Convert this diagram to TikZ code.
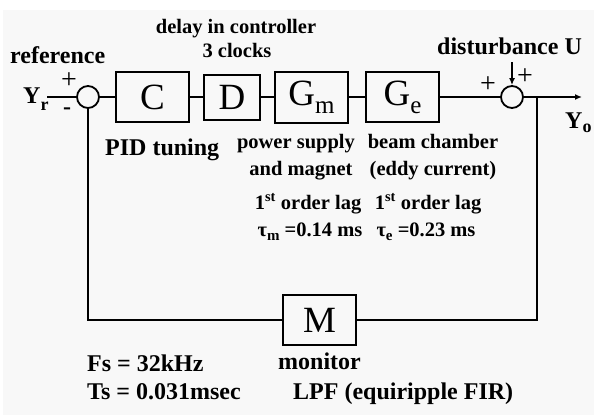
\documentclass[tikz,border=0pt]{standalone}
\usepackage{fontspec}
\usepackage{graphicx}
\setmainfont{Liberation Serif}
\usetikzlibrary{arrows.meta}
\definecolor{bg}{RGB}{248,248,248}
\newcommand\dsub[3]{\raisebox{-#1}{\fontsize{#2}{#2}\selectfont #3}}
\begin{document}
\begin{tikzpicture}[x=1pt,y=-1pt,
  blk/.style={draw,line width=2pt,minimum width=73pt,minimum height=50pt,inner sep=0pt,font=\fontsize{37}{38}\selectfont},
  sumc/.style={draw,circle,line width=1.8pt,minimum size=22pt,inner sep=0pt},
  wire/.style={line width=1.6pt},
  arr/.style={wire,-{Latex[length=7pt,width=6pt]}},
  lbl/.style={font=\bfseries\fontsize{24}{26}\selectfont,inner sep=0pt},
  slbl/.style={font=\bfseries\fontsize{20.5}{22}\selectfont,inner sep=0pt},
  sgn/.style={font=\fontsize{28}{28}\selectfont,inner sep=0pt}]
\useasboundingbox (0,0) rectangle (594,415);
\fill[bg] (3,10) rectangle (594,415);

% blocks
\node[sumc] (s1) at (88,97) {};
\node[blk] (C) at (152.5,97) {C};
\node[blk,minimum width=56pt,minimum height=45pt] (D) at (232,97) {D};
\node[blk,minimum height=51pt] (Gm) at (311.5,97) {G\dsub{8pt}{25}{m}};
\node[blk] (Ge) at (402.5,97) {G\dsub{8pt}{25}{e}};
\node[sumc] (s2) at (512,97) {};
\node[blk] (M) at (319.5,320) {M};

% coordinates
\coordinate (yr) at (47,97);
\coordinate (br) at (537,97);
\coordinate (out) at (582,97);
\coordinate (dtop) at (512,62);
\coordinate (fbR) at (537,320);
\coordinate (fbL) at (88,320);

% wires
\draw[wire] (yr) -- (s1.west);
\draw[wire] (s1.east) -- (C.west);
\draw[wire] (C.east) -- (D.west);
\draw[wire] (D.east) -- (Gm.west);
\draw[wire] (Gm.east) -- (Ge.west);
\draw[wire] (Ge.east) -- (s2.west);
\draw[arr] (s2.east) -- (out);
\draw[arr] (dtop) -- (s2.north);
\draw[wire] (br) -- (fbR) -- (M.east);
\draw[wire] (M.west) -- (fbL) -- (s1.south);

% labels
\node[lbl,anchor=base west,text depth=0pt] (ref) at (10,63) {reference};
\node[lbl,anchor=base west] (yrl) at (23,103) {Y\dsub{7pt}{18}{r}};
\node[sgn] (p1) at (69,81) {+};
\node[sgn,font=\bfseries\fontsize{24}{24}\selectfont] (m1) at (67,111) {-};
\node[sgn] (p2) at (488,85) {+};
\node[sgn] (p3) at (525,77) {+};
\node[lbl,anchor=base west] (dist) at (437,54) {disturbance U};
\node[lbl,anchor=base west] (yol) at (565,128) {Y\dsub{4pt}{18}{o}};

\node[slbl,anchor=base] (dl1) at (236,33) {delay in controller};
\node[slbl,anchor=base] (dl2) at (237,57) {3 clocks};
\node[lbl,anchor=base west] (pid) at (105,155) {PID tuning};
\node[slbl,anchor=base] (ps1) at (296,148) {power supply};
\node[slbl,anchor=base] (ps2) at (301,175) {and magnet};
\node[slbl,anchor=base] (bc1) at (433,148) {beam chamber};
\node[slbl,anchor=base] (bc2) at (433,175) {(eddy current)};
\node[slbl,anchor=base] (ol1) at (308,209) {1\textsuperscript{st} order lag};
\node[slbl,anchor=base] (ol2) at (428,209) {1\textsuperscript{st} order lag};
\node[slbl,anchor=base] (tm) at (310,236) {τ\dsub{4pt}{15}{m} =0.14 ms};
\node[slbl,anchor=base] (te) at (426,236) {τ\dsub{4pt}{15}{e} =0.23 ms};

\node[lbl,anchor=base west] (mon) at (278,369) {monitor};
\node[lbl,anchor=base west] (lpf) at (293,399) {LPF (equiripple FIR)};
\node[lbl,anchor=base west] (fs) at (87,371) {Fs = 32kHz};
\node[lbl,anchor=base west] (ts) at (87,399) {Ts = 0.031msec};
\end{tikzpicture}
\end{document}
